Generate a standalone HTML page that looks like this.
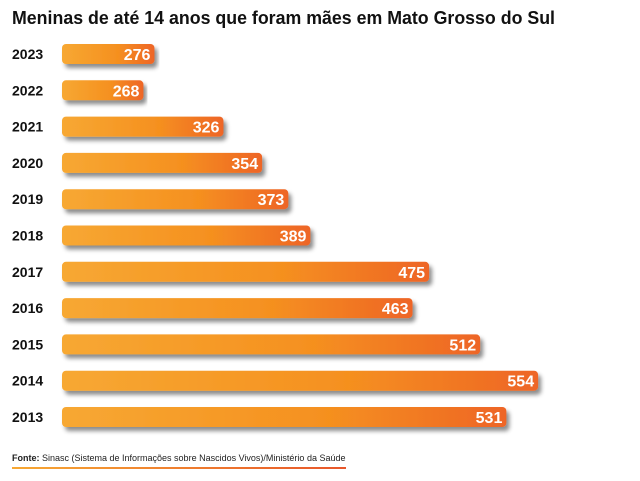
<!DOCTYPE html>
<html><head><meta charset="utf-8"><style>
html,body{margin:0;padding:0;background:#fff;width:640px;height:481px;overflow:hidden}
svg{display:block;font-family:"Liberation Sans",sans-serif}
</style></head><body>
<svg id="chart" width="640" height="481" viewBox="0 0 640 481">
<defs>
<linearGradient id="g" x1="0" x2="1" y1="0" y2="0">
<stop offset="0" stop-color="#f7a833"/><stop offset="0.6" stop-color="#f5901f"/><stop offset="1" stop-color="#ee6526"/>
</linearGradient>
<linearGradient id="lg" x1="0" x2="1"><stop offset="0" stop-color="#f7a833"/><stop offset="1" stop-color="#e8562a"/></linearGradient>
<filter id="sh" x="-5%" y="-30%" width="110%" height="180%"><feDropShadow dx="3" dy="4" stdDeviation="2" flood-color="#000" flood-opacity="0.45"/></filter>
</defs>
<text x="12" y="24" font-size="18" font-weight="bold" fill="#111" textLength="543" lengthAdjust="spacingAndGlyphs">Meninas de até 14 anos que foram mães em Mato Grosso do Sul</text>
<g id="bars"></g>
<text x="12" y="461" font-size="9" fill="#222"><tspan font-weight="bold">Fonte:</tspan> Sinasc (Sistema de Informações sobre Nascidos Vivos)/Ministério da Saúde</text>
<rect x="12" y="467" width="334" height="2" fill="url(#lg)"/>
</svg>
<script>
const years = ["2023","2022","2021","2020","2019","2018","2017","2016","2015","2014","2013"];
const values = [276,268,326,354,373,389,475,463,512,554,531];
const valueLabels = ["276","268","326","354","373","389","475","463","512","554","531"];
const x0 = 62, domainMin = 209, pxPerUnit = 1.38;
function xScale(v){ return x0 + (v - domainMin) * pxPerUnit; }
function yScale(i){ return 54 + i * 36.3; }
const g = document.getElementById('bars');
const ns = "http://www.w3.org/2000/svg";
years.forEach((yr,i)=>{
  const cy = yScale(i);
  const t = document.createElementNS(ns,'text');
  
  
  t.setAttribute('x', 12); t.setAttribute('y', cy+5);
  t.setAttribute('font-size', 14); t.setAttribute('font-weight','bold'); t.setAttribute('fill','#111');
  t.textContent = yr; g.appendChild(t);
  const end = xScale(values[i]);
  const r = document.createElementNS(ns,'rect');
  
  
  r.setAttribute('x', x0); r.setAttribute('y', cy-10);
  r.setAttribute('width', end-x0); r.setAttribute('height', 20);
  r.setAttribute('rx', 4); r.setAttribute('fill','url(#g)'); r.setAttribute('filter','url(#sh)');
  g.appendChild(r);
  const v = document.createElementNS(ns,'text');
  
  
  v.setAttribute('x', end-4); v.setAttribute('y', cy+6);
  v.setAttribute('text-anchor','end'); v.setAttribute('font-size', 16);
  v.setAttribute('font-weight','bold'); v.setAttribute('fill','#fff');
  v.textContent = valueLabels[i]; g.appendChild(v);
});
</script>
</body></html>
